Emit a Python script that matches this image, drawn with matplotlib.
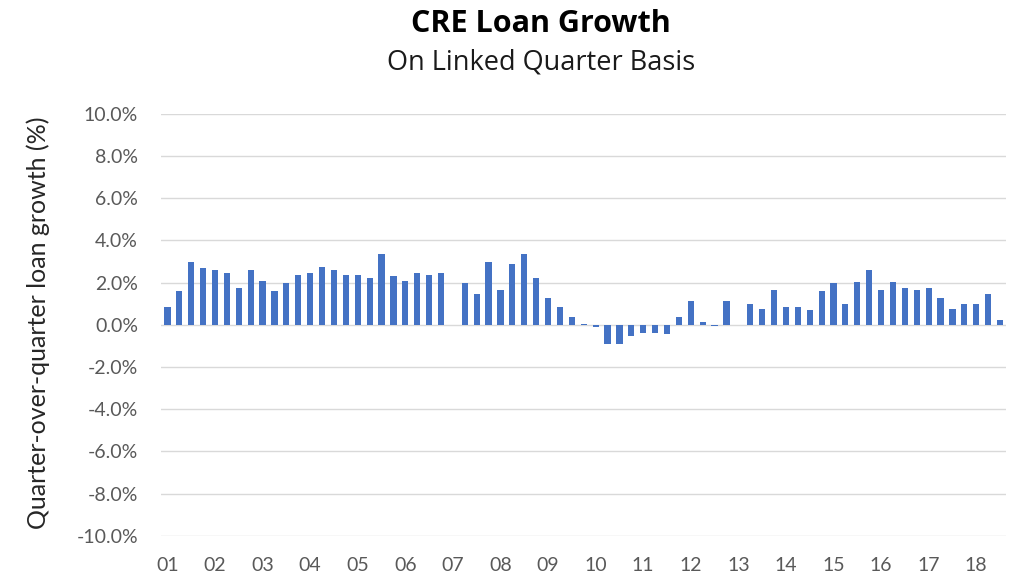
import numpy as np
import matplotlib.pyplot as plt
from matplotlib.ticker import FuncFormatter

# Quarterly CRE loan growth (linked quarter, %), 2001Q1 - 2018Q3
years = [f'{y:02d}' for y in range(1, 19)]
growth = [0.83, 1.59, 2.98, 2.67,   # 2001
          2.59, 2.44, 1.75, 2.59,   # 2002
          2.06, 1.60, 1.98, 2.37,   # 2003
          2.44, 2.75, 2.59, 2.37,   # 2004
          2.37, 2.21, 3.37, 2.29,   # 2005
          2.06, 2.44, 2.37, 2.44,   # 2006
          np.nan, 1.98, 1.46, 2.98,  # 2007
          1.67, 2.89, 3.37, 2.21,   # 2008
          1.29, 0.83, 0.37, 0.05,   # 2009
          -0.11, -0.90, -0.90, -0.52,  # 2010
          -0.37, -0.37, -0.44, 0.37,   # 2011
          1.14, 0.14, -0.08, 1.14,  # 2012
          np.nan, 0.98, 0.76, 1.67,  # 2013
          0.83, 0.83, 0.68, 1.59,   # 2014
          1.98, 0.98, 2.05, 2.59,   # 2015
          1.67, 2.05, 1.75, 1.67,   # 2016
          1.75, 1.29, 0.76, 0.98,   # 2017
          0.98, 1.44, 0.24]         # 2018 (Q1-Q3)

plt.rcParams['font.family'] = ['Lato', 'DejaVu Sans']

fig = plt.figure(figsize=(10.15, 5.81), dpi=100, facecolor='white')
ax = fig.add_axes([0.1591, 0.078, 0.832, 0.726])

x = np.arange(len(growth))
ax.bar(x, growth, width=0.52, color='#4472C4', zorder=3)

ax.set_xlim(-0.5, len(growth) - 0.5)
ax.set_ylim(-10, 10)
ax.set_yticks(np.arange(-10, 10.1, 2))
ax.yaxis.set_major_formatter(FuncFormatter(lambda v, p: f'{v:.1f}%'))
ax.set_xticks(x[::4])
ax.set_xticklabels(years)

ax.grid(axis='y', color='#D9D9D9', linewidth=1.0, zorder=0)
for s in ax.spines.values():
    s.set_visible(False)
ax.tick_params(axis='both', length=0, labelsize=14, labelcolor='#595959')
ax.tick_params(axis='y', pad=17)
ax.tick_params(axis='x', pad=15)

ax.set_ylabel('Quarter-over-quarter loan growth (%)', fontsize=18, color='#262626')
ax.yaxis.set_label_coords(-0.132, 0.505)

fig.text(0.533, 0.958, 'CRE Loan Growth', ha='center', va='center',
         family=['Open Sans', 'DejaVu Sans'], fontsize=22, fontweight='bold', color='black')
fig.text(0.533, 0.893, 'On Linked Quarter Basis', ha='center', va='center',
         family=['Open Sans', 'DejaVu Sans'], fontsize=19.5, color='#1a1a1a')

fig.savefig('out.png', dpi=100, facecolor='white')
